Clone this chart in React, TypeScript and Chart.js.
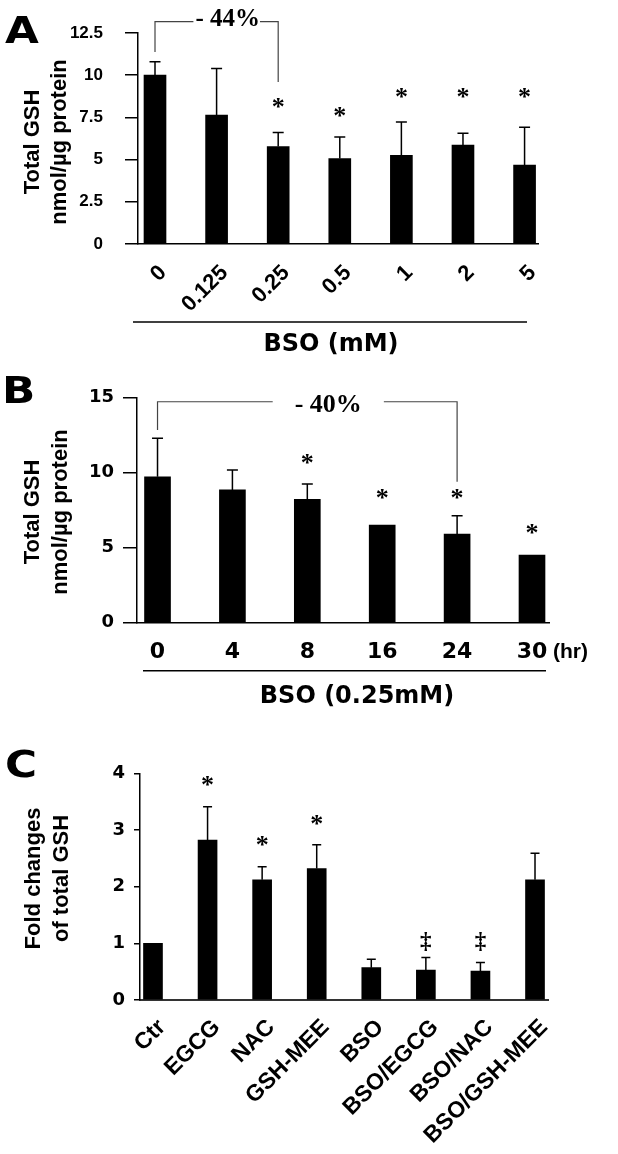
import React, { useEffect, useRef } from 'react';
import { Chart, registerables } from 'chart.js';

Chart.register(...registerables);

// ---------- Panel A data ----------
const catsA = ['0', '0.125', '0.25', '0.5', '1', '2', '5'];
const meanA = [10.0, 7.64, 5.77, 5.06, 5.25, 5.86, 4.68];
const sdA = [0.8, 2.76, 0.83, 1.28, 1.98, 0.7, 2.23];
const starYA: (number | null)[] = [null, null, 8.41, 7.88, 8.95, 8.95, 8.95];
const yTicksA = [0, 2.5, 5, 7.5, 10, 12.5];

// ---------- Panel B data ----------
const catsB = ['0', '4', '8', '16', '24', '30'];
const meanB = [9.73, 8.85, 8.22, 6.51, 5.91, 4.51];
const sdB = [2.57, 1.33, 1.03, 0, 1.22, 0];
const starYB: (number | null)[] = [null, null, 10.98, 8.65, 8.65, 6.31];
const yTicksB = [0, 5, 10, 15];

// ---------- Panel C data ----------
const catsC = ['Ctr', 'EGCG', 'NAC', 'GSH-MEE', 'BSO', 'BSO/EGCG', 'BSO/NAC', 'BSO/GSH-MEE'];
const meanC = [1.0, 2.82, 2.12, 2.32, 0.57, 0.53, 0.51, 2.12];
const sdC = [0, 0.59, 0.23, 0.42, 0.15, 0.22, 0.15, 0.47];
const markC = ['', '*', '*', '*', '', '\u2021', '\u2021', ''];
const markYC: (number | null)[] = [null, 3.88, 2.82, 3.18, null, 1.03, 1.03, null];
const yTicksC = [0, 1, 2, 3, 4];

const SANS = '"Liberation Sans", Arial, sans-serif';
const WIDE = '"DejaVu Sans", sans-serif';
const SERIF = '"Liberation Serif", "Times New Roman", serif';

type Panel = {
  top: number;
  height: number;
  area: { left: number; right: number; top: number; bottom: number };
  cats: string[];
  mean: number[];
  sd: number[];
  yMax: number;
  yTicks: number[];
  xMin: number;
  xMax: number;
  barThickness: number;
  capW: number;
  yTick: { font: any; len: number; pad: number };
  xTick: { font: any; rot: number; pad: number; offset: number };
  xBorder: { color: string; width: number };
  letter: { text: string; x: number; base: number };
  titles: { lines: string[]; xs: number[]; y: number };
  marks: { text: string[]; y: (number | null)[]; size: number };
  bracket?: {
    from: number; to: number; top: number; leftEnd: number; rightEnd: number;
    text: string; textX: number; textY: number; gapL: number; gapR: number; size: number;
  };
  group?: { x1: number; x2: number; y: number; text: string; tx: number; ty: number; font: string };
  extraText?: { text: string; x: number; y: number; font: string };
};

const panels: Panel[] = [
  {
    top: 0,
    height: 360,
    area: { left: 138, right: 538, top: 33, bottom: 244 },
    cats: catsA,
    mean: meanA,
    sd: sdA,
    yMax: 12.5,
    yTicks: yTicksA,
    xMin: -0.276,
    xMax: 6.218,
    barThickness: 22,
    capW: 11,
    yTick: { font: { family: SANS, size: 17, weight: 'bold' }, len: 13, pad: 22 },
    xTick: { font: { family: SANS, size: 22, weight: 'bold' }, rot: 45, pad: 16, offset: 8 },
    xBorder: { color: '#000', width: 1.5 },
    letter: { text: 'A', x: 5, base: 43 },
    titles: { lines: ['Total GSH', 'nmol/\u00b5g protein'], xs: [33, 60], y: 142 },
    marks: { text: catsA.map((_, i) => (starYA[i] == null ? '' : '*')), y: starYA, size: 26 },
    bracket: {
      from: 0, to: 2, top: 13.17, leftEnd: 11.37, rightEnd: 9.6,
      text: '- 44%', textX: 1.18, textY: 13.42, gapL: 2, gapR: 0, size: 25,
    },
    group: { x1: 133, x2: 527, y: 322, text: 'BSO (mM)', tx: 331, ty: 345, font: 'bold 24px ' + WIDE },
  },
  {
    top: 360,
    height: 360,
    area: { left: 137, right: 549, top: 397.7, bottom: 622.7 },
    cats: catsB,
    mean: meanB,
    sd: sdB,
    yMax: 15,
    yTicks: yTicksB,
    xMin: -0.274,
    xMax: 5.227,
    barThickness: 26,
    capW: 11,
    yTick: { font: { family: WIDE, size: 18, weight: 'bold' }, len: 14, pad: 9 },
    xTick: { font: { family: WIDE, size: 22, weight: 'bold' }, rot: 0, pad: 16, offset: 0 },
    xBorder: { color: '#000', width: 1.5 },
    letter: { text: 'B', x: 2, base: 403 },
    titles: { lines: ['Total GSH', 'nmol/\u00b5g protein'], xs: [33, 61], y: 512 },
    marks: { text: catsB.map((_, i) => (starYB[i] == null ? '' : '*')), y: starYB, size: 26 },
    bracket: {
      from: 0, to: 4, top: 14.73, leftEnd: 12.85, rightEnd: 9.4,
      text: '- 40%', textX: 2.28, textY: 14.61, gapL: 22, gapR: 22, size: 26,
    },
    group: { x1: 143, x2: 546, y: 670.7, text: 'BSO (0.25mM)', tx: 357, ty: 697, font: 'bold 24px ' + WIDE },
    extraText: { text: '(hr)', x: 553, y: 652, font: 'bold 21px ' + SANS },
  },
  {
    top: 720,
    height: 434,
    area: { left: 140, right: 548, top: 773.3, bottom: 1000 },
    cats: catsC,
    mean: meanC,
    sd: sdC,
    yMax: 4,
    yTicks: yTicksC,
    xMin: -0.238,
    xMax: 7.238,
    barThickness: 19,
    capW: 9,
    yTick: { font: { family: WIDE, size: 18, weight: 'bold' }, len: 6, pad: 9 },
    xTick: { font: { family: SANS, size: 23, weight: 'bold' }, rot: 45, pad: 14, offset: 9 },
    xBorder: { color: '#333', width: 2 },
    letter: { text: 'C', x: 5, base: 777 },
    titles: { lines: ['Fold changes', 'of total GSH'], xs: [34, 61.5], y: 878.5 },
    marks: { text: markC, y: markYC, size: 26 },
  },
];

function drawExtras(chart: any, p: Panel) {
  const ctx: CanvasRenderingContext2D = chart.ctx;
  const xs = chart.scales.x;
  const ys = chart.scales.y;
  const off = p.top;
  ctx.save();
  ctx.fillStyle = '#000';
  ctx.strokeStyle = '#000';

  // panel letter
  ctx.save();
  ctx.font = 'bold 38px ' + WIDE;
  ctx.textAlign = 'left';
  ctx.textBaseline = 'alphabetic';
  ctx.translate(p.letter.x, p.letter.base - off);
  ctx.scale(1.15, 1);
  ctx.fillText(p.letter.text, 0, 0);
  ctx.restore();

  // y-axis titles
  ctx.font = 'bold 22px ' + SANS;
  ctx.textAlign = 'center';
  ctx.textBaseline = 'middle';
  p.titles.lines.forEach((line, k) => {
    ctx.save();
    ctx.translate(p.titles.xs[k], p.titles.y - off);
    ctx.rotate(-Math.PI / 2);
    ctx.fillText(line, 0, 0);
    ctx.restore();
  });

  // significance marks
  ctx.textAlign = 'center';
  ctx.textBaseline = 'alphabetic';
  const fs = p.marks.size;
  p.marks.text.forEach((t, i) => {
    const v = p.marks.y[i];
    if (!t || v == null) return;
    const isStar = t === '*';
    const size = isStar ? fs : fs - 3;
    ctx.font = 'bold ' + size + 'px ' + SERIF;
    const lift = isStar ? 0.483 : 0.28;
    const x = xs.getPixelForValue(i);
    const y = ys.getPixelForValue(v);
    ctx.fillText(t, x, y + lift * size);
  });

  // bracket with percentage
  if (p.bracket) {
    const b = p.bracket;
    const x0 = xs.getPixelForValue(b.from);
    const x1 = xs.getPixelForValue(b.to);
    const yT = ys.getPixelForValue(b.top);
    const yL = ys.getPixelForValue(b.leftEnd);
    const yR = ys.getPixelForValue(b.rightEnd);
    const tx = xs.getPixelForValue(b.textX);
    const ty = ys.getPixelForValue(b.textY);
    ctx.font = 'bold ' + b.size + 'px ' + SERIF;
    const w = ctx.measureText(b.text).width;
    ctx.strokeStyle = '#444';
    ctx.lineWidth = 1.2;
    ctx.beginPath();
    ctx.moveTo(x0, yL);
    ctx.lineTo(x0, yT);
    ctx.lineTo(tx - w / 2 - b.gapL, yT);
    ctx.moveTo(tx + w / 2 + b.gapR, yT);
    ctx.lineTo(x1, yT);
    ctx.lineTo(x1, yR);
    ctx.stroke();
    ctx.textAlign = 'center';
    ctx.textBaseline = 'alphabetic';
    ctx.fillText(b.text, tx, ty + 0.33 * b.size);
  }

  // group underline and label
  if (p.group) {
    const g = p.group;
    ctx.strokeStyle = '#000';
    ctx.lineWidth = 1.5;
    ctx.beginPath();
    ctx.moveTo(g.x1, g.y - off);
    ctx.lineTo(g.x2, g.y - off);
    ctx.stroke();
    ctx.font = g.font;
    ctx.textAlign = 'center';
    ctx.textBaseline = 'middle';
    ctx.fillText(g.text, g.tx, g.ty - off);
  }

  if (p.extraText) {
    const e = p.extraText;
    ctx.font = e.font;
    ctx.textAlign = 'left';
    ctx.textBaseline = 'middle';
    ctx.fillText(e.text, e.x, e.y - off);
  }
  ctx.restore();
}

function drawErrorBars(chart: any, p: Panel) {
  const ctx: CanvasRenderingContext2D = chart.ctx;
  const xs = chart.scales.x;
  const ys = chart.scales.y;
  ctx.save();
  ctx.strokeStyle = '#000';
  ctx.lineWidth = 1.5;
  p.mean.forEach((m, i) => {
    const s = p.sd[i];
    if (!s) return;
    const x = xs.getPixelForValue(i);
    const y0 = ys.getPixelForValue(m);
    const y1 = ys.getPixelForValue(m + s);
    ctx.beginPath();
    ctx.moveTo(x, y0);
    ctx.lineTo(x, y1);
    ctx.moveTo(x - p.capW / 2, y1);
    ctx.lineTo(x + p.capW / 2, y1);
    ctx.stroke();
  });
  ctx.restore();
}

function makeConfig(p: Panel): any {
  return {
    type: 'bar',
    data: {
      datasets: [
        {
          data: p.mean.map((v, i) => ({ x: i, y: v })),
          backgroundColor: '#000',
          borderWidth: 0,
          barThickness: p.barThickness,
        },
      ],
    },
    options: {
      animation: false,
      responsive: false,
      devicePixelRatio: 1,
      layout: {
        autoPadding: false,
        padding: { left: 0, right: 618 - p.area.right, top: p.area.top - p.top, bottom: 0 },
      },
      plugins: { legend: { display: false }, tooltip: { enabled: false }, title: { display: false } },
      scales: {
        x: {
          type: 'linear',
          min: p.xMin,
          max: p.xMax,
          offset: false,
          grid: { display: false, drawTicks: false },
          border: { display: true, color: p.xBorder.color, width: p.xBorder.width },
          afterBuildTicks: (axis: any) => {
            axis.ticks = p.cats.map((_, i) => ({ value: i }));
          },
          ticks: {
            autoSkip: false,
            minRotation: p.xTick.rot,
            maxRotation: p.xTick.rot,
            padding: p.xTick.pad,
            labelOffset: p.xTick.offset,
            color: '#000',
            font: p.xTick.font,
            callback: (v: any) => p.cats[Math.round(Number(v))],
          },
          afterFit: (axis: any) => {
            axis.height = p.top + p.height - p.area.bottom;
            axis.paddingLeft = 0;
            axis.paddingRight = 0;
          },
        },
        y: {
          type: 'linear',
          min: 0,
          max: p.yMax,
          afterBuildTicks: (axis: any) => {
            axis.ticks = p.yTicks.map((v) => ({ value: v }));
          },
          grid: {
            drawOnChartArea: false,
            drawTicks: true,
            tickLength: p.yTick.len,
            color: '#000',
            lineWidth: 1.5,
          },
          border: { display: true, color: '#000', width: 1.5 },
          ticks: {
            padding: p.yTick.pad,
            color: '#000',
            font: p.yTick.font,
            callback: (v: any) => String(v),
          },
          afterFit: (axis: any) => {
            axis.width = p.area.left;
            axis.paddingTop = 0;
            axis.paddingBottom = 0;
          },
        },
      },
    },
    plugins: [
      {
        id: 'extras',
        afterDatasetsDraw: (chart: any) => drawErrorBars(chart, p),
        afterDraw: (chart: any) => drawExtras(chart, p),
      },
    ],
  };
}

function PanelChart({ p }: { p: Panel }) {
  const ref = useRef<HTMLCanvasElement | null>(null);
  useEffect(() => {
    if (!ref.current) return;
    const chart = new Chart(ref.current, makeConfig(p));
    return () => chart.destroy();
  }, [p]);
  return (
    <canvas
      ref={ref}
      width={618}
      height={p.height}
      style={{ position: 'absolute', left: 0, top: p.top, width: 618, height: p.height, display: 'block' }}
    />
  );
}

export default function App() {
  return (
    <div style={{ position: 'absolute', left: 0, top: 0, width: 618, height: 1154, background: '#fff', overflow: 'hidden' }}>
      {panels.map((p, i) => (
        <PanelChart key={i} p={p} />
      ))}
    </div>
  );
}
